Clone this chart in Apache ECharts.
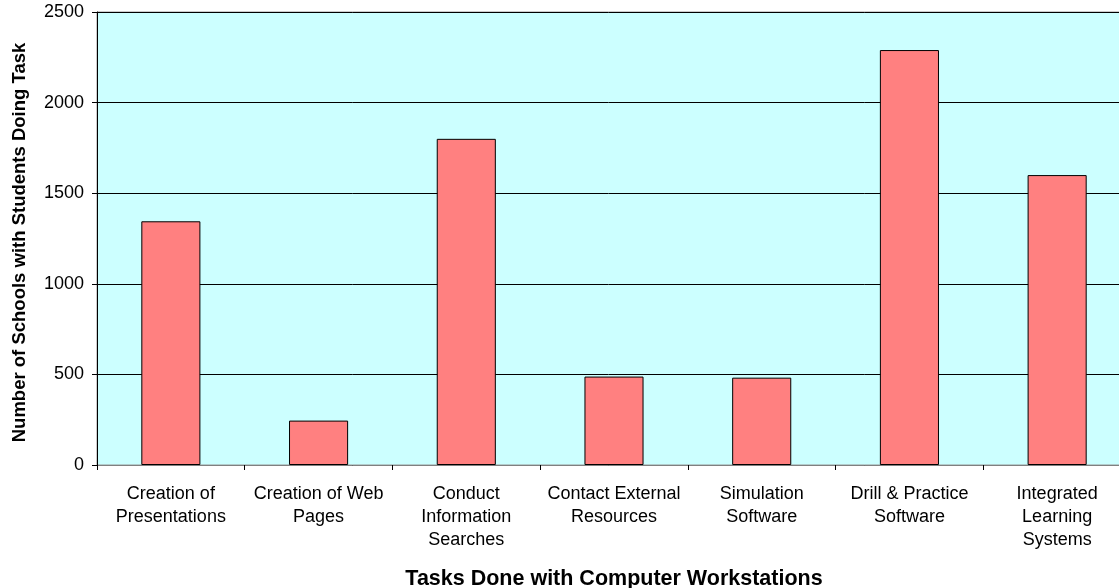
<!DOCTYPE html>
<html>
<head>
<meta charset="utf-8">
<script src="https://cdn.jsdelivr.net/npm/echarts@6/dist/echarts.min.js"></script>
<style>
  html, body { margin: 0; padding: 0; background: #fff; }
  #chart { width: 1119px; height: 588px; }
</style>
</head>
<body>
<div id="chart"></div>
<script>
// Tasks students do on school computer workstations
const categories = [
  'Creation of\nPresentations',
  'Creation of Web\nPages',
  'Conduct\nInformation\nSearches',
  'Contact External\nResources',
  'Simulation\nSoftware',
  'Drill & Practice\nSoftware',
  'Integrated\nLearning\nSystems'
];
const schoolCounts = [1345, 245, 1800, 488, 482, 2290, 1600];
const yTicks = { min: 0, max: 2500, interval: 500 };

const FONT = '"Liberation Sans", Arial, sans-serif';

const chart = echarts.init(document.getElementById('chart'), null, { renderer: 'canvas' });
chart.setOption({
  animation: false,
  backgroundColor: '#ffffff',
  grid: {
    left: 97, top: 12, bottom: 123, right: -12,
    containLabel: false,
    outerBoundsMode: 'none',
    show: true,
    backgroundColor: '#CCFFFF',
    borderColor: '#999999',
    borderWidth: 1
  },
  xAxis: {
    type: 'category',
    data: categories,
    name: 'Tasks Done with Computer Workstations',
    nameLocation: 'middle',
    nameGap: 103,
    nameTextStyle: { fontFamily: FONT, fontWeight: 'bold', fontSize: 21.5, color: '#000' },
    axisLine: { lineStyle: { color: '#808080', width: 1 } },
    axisTick: { show: true, alignWithLabel: false, length: 5, lineStyle: { color: '#000' } },
    axisLabel: {
      interval: 0,
      margin: 18,
      fontFamily: FONT,
      fontSize: 18,
      lineHeight: 23,
      color: '#000',
      align: 'center'
    },
    splitLine: { show: false }
  },
  yAxis: {
    type: 'value',
    min: yTicks.min,
    max: yTicks.max,
    interval: yTicks.interval,
    name: 'Number of Schools with Students Doing Task',
    nameLocation: 'middle',
    nameGap: 68,
    nameTextStyle: { fontFamily: FONT, fontWeight: 'bold', fontSize: 18.5, color: '#000', padding: [0, 8, 0, 0] },
    axisLine: { show: true, lineStyle: { color: '#000', width: 1 } },
    axisTick: { show: true, length: 5, lineStyle: { color: '#000' } },
    axisLabel: {
      margin: 13, fontFamily: FONT, fontSize: 18, color: '#000',
      formatter: (v) => String(v)
    },
    splitLine: { show: true, lineStyle: { color: '#000', width: 1 } }
  },
  series: [{
    type: 'bar',
    data: schoolCounts,
    barWidth: '40%',
    itemStyle: { color: '#FF8080', borderColor: '#000', borderWidth: 1 }
  }]
});
</script>
</body>
</html>
